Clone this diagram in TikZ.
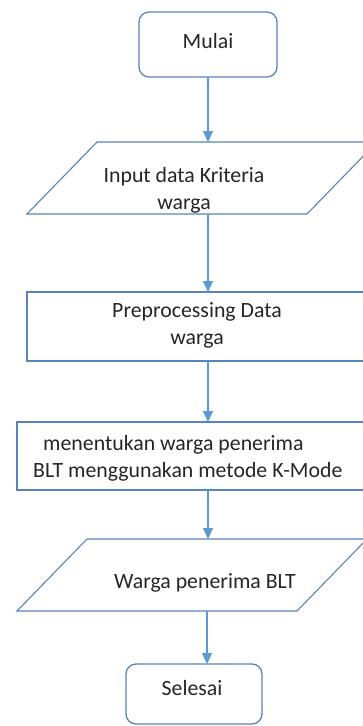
\documentclass[tikz,border=0pt]{standalone}
\usepackage{fontspec}
\setmainfont{Carlito}
\usetikzlibrary{arrows.meta}
\definecolor{boxblue}{RGB}{88,132,186}
\definecolor{flowblue}{RGB}{91,155,213}
\tikzset{
  termbox/.style={draw=boxblue,line width=1.3pt,rounded corners=10pt,minimum width=138pt,minimum height=65pt,inner sep=0pt,outer sep=0pt},
  procbox/.style={draw=boxblue,line width=1.1pt,minimum width=376pt,inner sep=0pt,outer sep=0pt},
  iobox/.style={minimum width=350pt,minimum height=72pt,inner sep=0pt,outer sep=0pt},
  ioline/.style={draw=boxblue,line width=1.1pt,line join=miter},
  label/.style={inner sep=0pt,anchor=base,text=black!85,font=\fontsize{21.8}{27}\selectfont},
  flow/.style={draw=flowblue,line width=1.2pt,-{Triangle[length=11pt,width=10pt]}}
}
\begin{document}
\begin{tikzpicture}[x=1pt,y=-1pt]
  \useasboundingbox (0,0) rectangle (363,726);
  \clip (0,0) rectangle (363,726);
  \fill[white] (0,0) rectangle (363,726);
  % boxes
  \node[termbox] (mulai) at (208,44.5) {};
  \node[iobox] (input) at (202,178) {};
  \draw[ioline] (input.south west) -- ([xshift=70pt]input.north west) -- (input.north east) -- ([xshift=-70pt]input.south east) -- cycle;
  \node[procbox,minimum height=69pt] (prep) at (215,326.5) {};
  \node[procbox,minimum height=68pt] (kmode) at (205,456) {};
  \node[iobox] (output) at (192,575) {};
  \draw[ioline] (output.south west) -- ([xshift=70pt]output.north west) -- (output.north east) -- ([xshift=-70pt]output.south east) -- cycle;
  \node[termbox,minimum width=136pt,minimum height=60pt] (selesai) at (194,694) {};
  % texts (base of a two-line node is its last line)
  \node[label] (mulaiText) at (208,48) {Mulai};
  \node[label,align=center] (inputText) at (184,209) {Input data Kriteria\\warga};
  \node[label,align=center] (prepText) at (197,344) {Preprocessing Data\\warga};
  \node[label,align=left,anchor=base west] (kmodeText) at (33,477) {\hspace*{10pt}menentukan warga penerima\\BLT menggunakan metode K-Mode};
  \node[label] (outputText) at (205,588) {Warga penerima BLT};
  \node[label] (selesaiText) at (192,695) {Selesai};
  % arrows
  \draw[flow] (mulai.south) -- (mulai.south |- input.north);
  \draw[flow] (mulai.south |- input.south) -- (mulai.south |- prep.north);
  \draw[flow] (mulai.south |- prep.south) -- (mulai.south |- kmode.north);
  \draw[flow] (mulai.south |- kmode.south) -- (mulai.south |- output.north);
  \draw[flow] ([xshift=-1pt]mulai.south |- output.south) -- ([xshift=-1pt]mulai.south |- selesai.north);
\end{tikzpicture}
\end{document}
